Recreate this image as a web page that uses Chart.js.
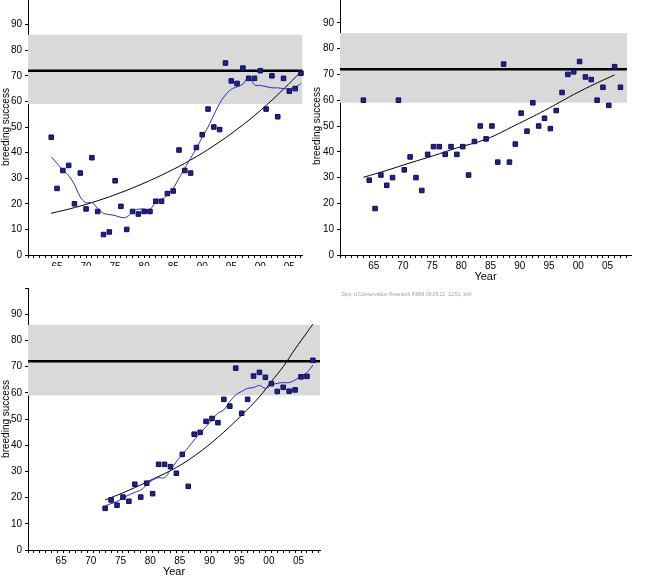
<!DOCTYPE html>
<html>
<head>
<meta charset="utf-8">
<script src="https://cdn.jsdelivr.net/npm/chart.js@4.4.1/dist/chart.umd.min.js"></script>
<style>
  html, body { margin: 0; padding: 0; background: #fff; overflow: hidden; }
  body { width: 663px; height: 576px; position: relative; }
  canvas { position: absolute; }
  #note {
    position: absolute; left: 342px; top: 291px;
    font: 10px 'Liberation Sans', Arial, sans-serif; color: #a0a0a0;
    white-space: nowrap; transform: scale(0.5, 0.5); transform-origin: left top;
  }
</style>
</head>
<body>
<canvas id="panelA" width="330" height="267" style="left:0;top:-1px"></canvas>
<canvas id="panelB" width="363" height="288" style="left:300px;top:-3px"></canvas>
<canvas id="panelC" width="330" height="292" style="left:0;top:288px"></canvas>
<div id="note">Dep. d Conservation Research INRM 09.09.21&nbsp;&nbsp;12:51, bsh</div>
<script>
// Reference levels (same in all three panels)
const bandLow = 59;
const bandHigh = 86;
const targetLevel = 72;

// Panel A (top left)
const yearsA = [1964,1965,1966,1967,1968,1969,1970,1971,1972,1973,1974,1975,1976,1977,1978,1979,1980,1981,1982,1983,1984,1985,
                1986,1987,1988,1989,1990,1991,1992,1993,1994,1995,1996,1997,1998,1999,2000,2001,2002,2003,2004,2005,2006,2007];
const successA = [46,26,33,35,20,32,18,38,17,8,9,29,19,10,17,16,17,17,21,21,24,25,
                  41,33,32,42,47,57,50,49,75,68,67,73,69,69,72,57,70,54,69,64,65,71];
const smoothA = [38.3,35.8,33.2,31,27.5,22.7,20.4,20.5,18.2,16.3,15.8,15.4,14.7,14.8,17,17.9,17.9,17.9,20.5,21.6,23.5,26.1,
                 30,33.9,37.8,41.7,46,50,54.7,59.2,62.5,64.7,65.7,66.8,69.4,66.5,66.2,65.8,65.3,65.3,65,65,65.5,67];
const trendYearsA = [1964,1968,1972,1976,1980,1984,1988,1992,1996,2000,2004,2007];
const trendA = [16.3,18.5,21.2,24.4,28.1,32.3,37.1,42.7,49.1,56.4,64.8,71.6];

// Panel B (top right)
const yearsB = [1964,1965,1966,1967,1968,1969,1970,1971,1972,1973,1974,1975,1976,1977,1978,1979,1980,1981,1982,1983,1984,1985,
                1986,1987,1988,1989,1990,1991,1992,1993,1994,1995,1996,1997,1998,1999,2000,2001,2002,2003,2004,2005,2006,2007,2008];
const successB = [60,29,18,31,27,30,60,33,38,30,25,39,42,42,39,42,39,42,31,44,50,45,
                  50,36,74,36,43,55,48,59,50,53,49,56,63,70,71,75,69,68,60,65,58,73,65];
const trendYearsB = [1964,1968,1972,1976,1980,1985,1990,1995,2000,2004,2007];
const trendB = [30.1,32.8,35.7,38.5,41.5,44.9,50.3,56,62.2,66.7,69.8];

// Panel C (bottom left)
const yearsC = [1973,1974,1975,1976,1977,1978,1979,1980,1981,1982,1983,1984,1985,1986,1987,1988,1989,1990,
                1991,1992,1993,1994,1995,1996,1997,1998,1999,2000,2001,2002,2003,2004,2005,2006,2007,2008];
const successC = [15.9,19.1,17.1,20.2,18.6,25.1,20.2,25.5,21.5,32.7,32.7,31.8,29.3,36.5,24.3,44.2,44.9,49.1,
                  50.2,48.6,57.5,54.9,69.4,52.2,57.5,66.4,67.8,65.9,63.5,60.5,62.1,60.6,61.1,66.1,66.3,72.4];
const smoothC = [16.9,17.7,18.5,19.8,21,22,22.9,24.8,26.7,27.6,27.6,30.5,33.7,36.5,39.1,42,44.6,47.1,
                 49.6,52.2,53.5,56.6,59.2,60.5,61.7,62,62.8,61.7,63,63.6,63.9,63.9,64.9,66.2,67.8,70.6];
const trendYearsC = [1973,1977,1981,1985,1989,1993,1996,1999,2001,2003,2005,2007,2008];
const trendC = [19.1,22.8,27,31.5,37.5,45,51.5,58.5,64.3,70,76.7,83,86.2];

const labelFont = { family: "'Liberation Sans Narrow', 'Liberation Sans', Arial, sans-serif", size: 10 };
const titleFont = { family: "'Liberation Sans', Arial, sans-serif", size: 10 };

function pts(xs, ys) {
    return xs.map((x, i) => ({ x: x, y: ys[i] }));
}

// Build one panel
function makePanel(id, p) {
    const datasets = [{
        data: pts(p.years, p.success),
        showLine: false,
        pointStyle: 'rect',
        pointRadius: 3.2,
        backgroundColor: '#20208e',
        borderColor: '#0c0c5c',
        borderWidth: 1,
        clip: 5
    }];
    if (p.smooth) {
        datasets.push({
            data: pts(p.years, p.smooth),
            borderColor: '#2a2ac4',
            borderWidth: 1,
            pointRadius: 0,
            tension: 0.4
        });
    }
    datasets.push({
        data: pts(p.trendYears, p.trend),
        borderColor: '#000',
        borderWidth: 1,
        pointRadius: 0,
        tension: 0.4
    });
    datasets.push({
        data: [{ x: p.xMin, y: targetLevel }, { x: p.bandEnd, y: targetLevel }],
        borderColor: '#000',
        borderWidth: 2.5,
        pointRadius: 0
    });
    datasets.push({
        data: [{ x: p.xMin, y: bandHigh }, { x: p.bandEnd, y: bandHigh }],
        borderWidth: 0,
        borderColor: 'rgba(0,0,0,0)',
        pointRadius: 0,
        fill: { value: bandLow },
        backgroundColor: '#d9d9d9'
    });

    new Chart(document.getElementById(id), {
        type: 'line',
        data: { datasets: datasets },
        options: {
            responsive: false,
            animation: false,
            events: [],
            layout: { autoPadding: false, padding: { left: 0, top: 0, right: p.padRight, bottom: 0 } },
            plugins: { legend: { display: false }, tooltip: { enabled: false } },
            scales: {
                x: {
                    type: 'linear',
                    min: p.xMin,
                    max: p.xMax,
                    z: 1,
                    border: { color: '#000', width: 1 },
                    grid: { drawOnChartArea: false, tickLength: 3, color: '#000' },
                    ticks: {
                        stepSize: 1,
                        autoSkip: false,
                        maxRotation: 0,
                        includeBounds: false,
                        padding: p.xLabelPad,
                        labelOffset: p.labelOffset,
                        color: '#000',
                        font: labelFont,
                        callback: (v) => {
                            const y = Math.round(v);
                            return (y % 5 === 0 && y > p.xMin) ? String(y).slice(2) : '';
                        }
                    },
                    title: {
                        display: p.showYear,
                        text: 'Year',
                        color: '#000',
                        font: { family: titleFont.family, size: 11 },
                        padding: { top: 0, bottom: 1 }
                    },
                    afterFit: (s) => {
                        s.height = p.xAxisHeight;
                        s.paddingLeft = 0;
                        s.paddingRight = 0;
                    }
                },
                y: {
                    min: 0,
                    max: 100,
                    z: 1,
                    border: { color: '#000', width: 1 },
                    grid: { drawOnChartArea: false, tickLength: 3, color: '#000' },
                    ticks: {
                        stepSize: 5,
                        padding: 3,
                        color: '#000',
                        font: labelFont,
                        callback: (v) => (v % 10 === 0 && v < 100) ? v : ''
                    },
                    title: {
                        display: true,
                        text: 'breeding success',
                        color: '#000',
                        font: titleFont,
                        padding: { top: p.yTitlePad, bottom: 0 }
                    },
                    afterFit: (s) => {
                        s.width = p.yAxisWidth;
                        s.paddingTop = 0;
                        s.paddingBottom = 0;
                    }
                }
            }
        }
    });
}

makePanel('panelA', {
    years: yearsA, success: successA, smooth: smoothA, trendYears: trendYearsA, trend: trendA,
    xMin: 1960, xMax: 2007.3, bandEnd: 2007.3, labelOffset: 0, xLabelPad: 3,
    yAxisWidth: 28, xAxisHeight: 11, padRight: 27.3, yTitlePad: 0, showYear: false
});

makePanel('panelB', {
    years: yearsB, success: successB, smooth: null, trendYears: trendYearsB, trend: trendB,
    xMin: 1960, xMax: 2009.8, bandEnd: 2009.1, labelOffset: 4.5, xLabelPad: 2,
    yAxisWidth: 40, xAxisHeight: 30, padRight: 32, yTitlePad: 11.4, showYear: true
});

makePanel('panelC', {
    years: yearsC, success: successC, smooth: smoothC, trendYears: trendYearsC, trend: trendC,
    xMin: 1960, xMax: 2009.2, bandEnd: 2009.2, labelOffset: 3.5, xLabelPad: 2,
    yAxisWidth: 28, xAxisHeight: 30, padRight: 10, yTitlePad: 0.5, showYear: true
});
</script>
</body>
</html>
